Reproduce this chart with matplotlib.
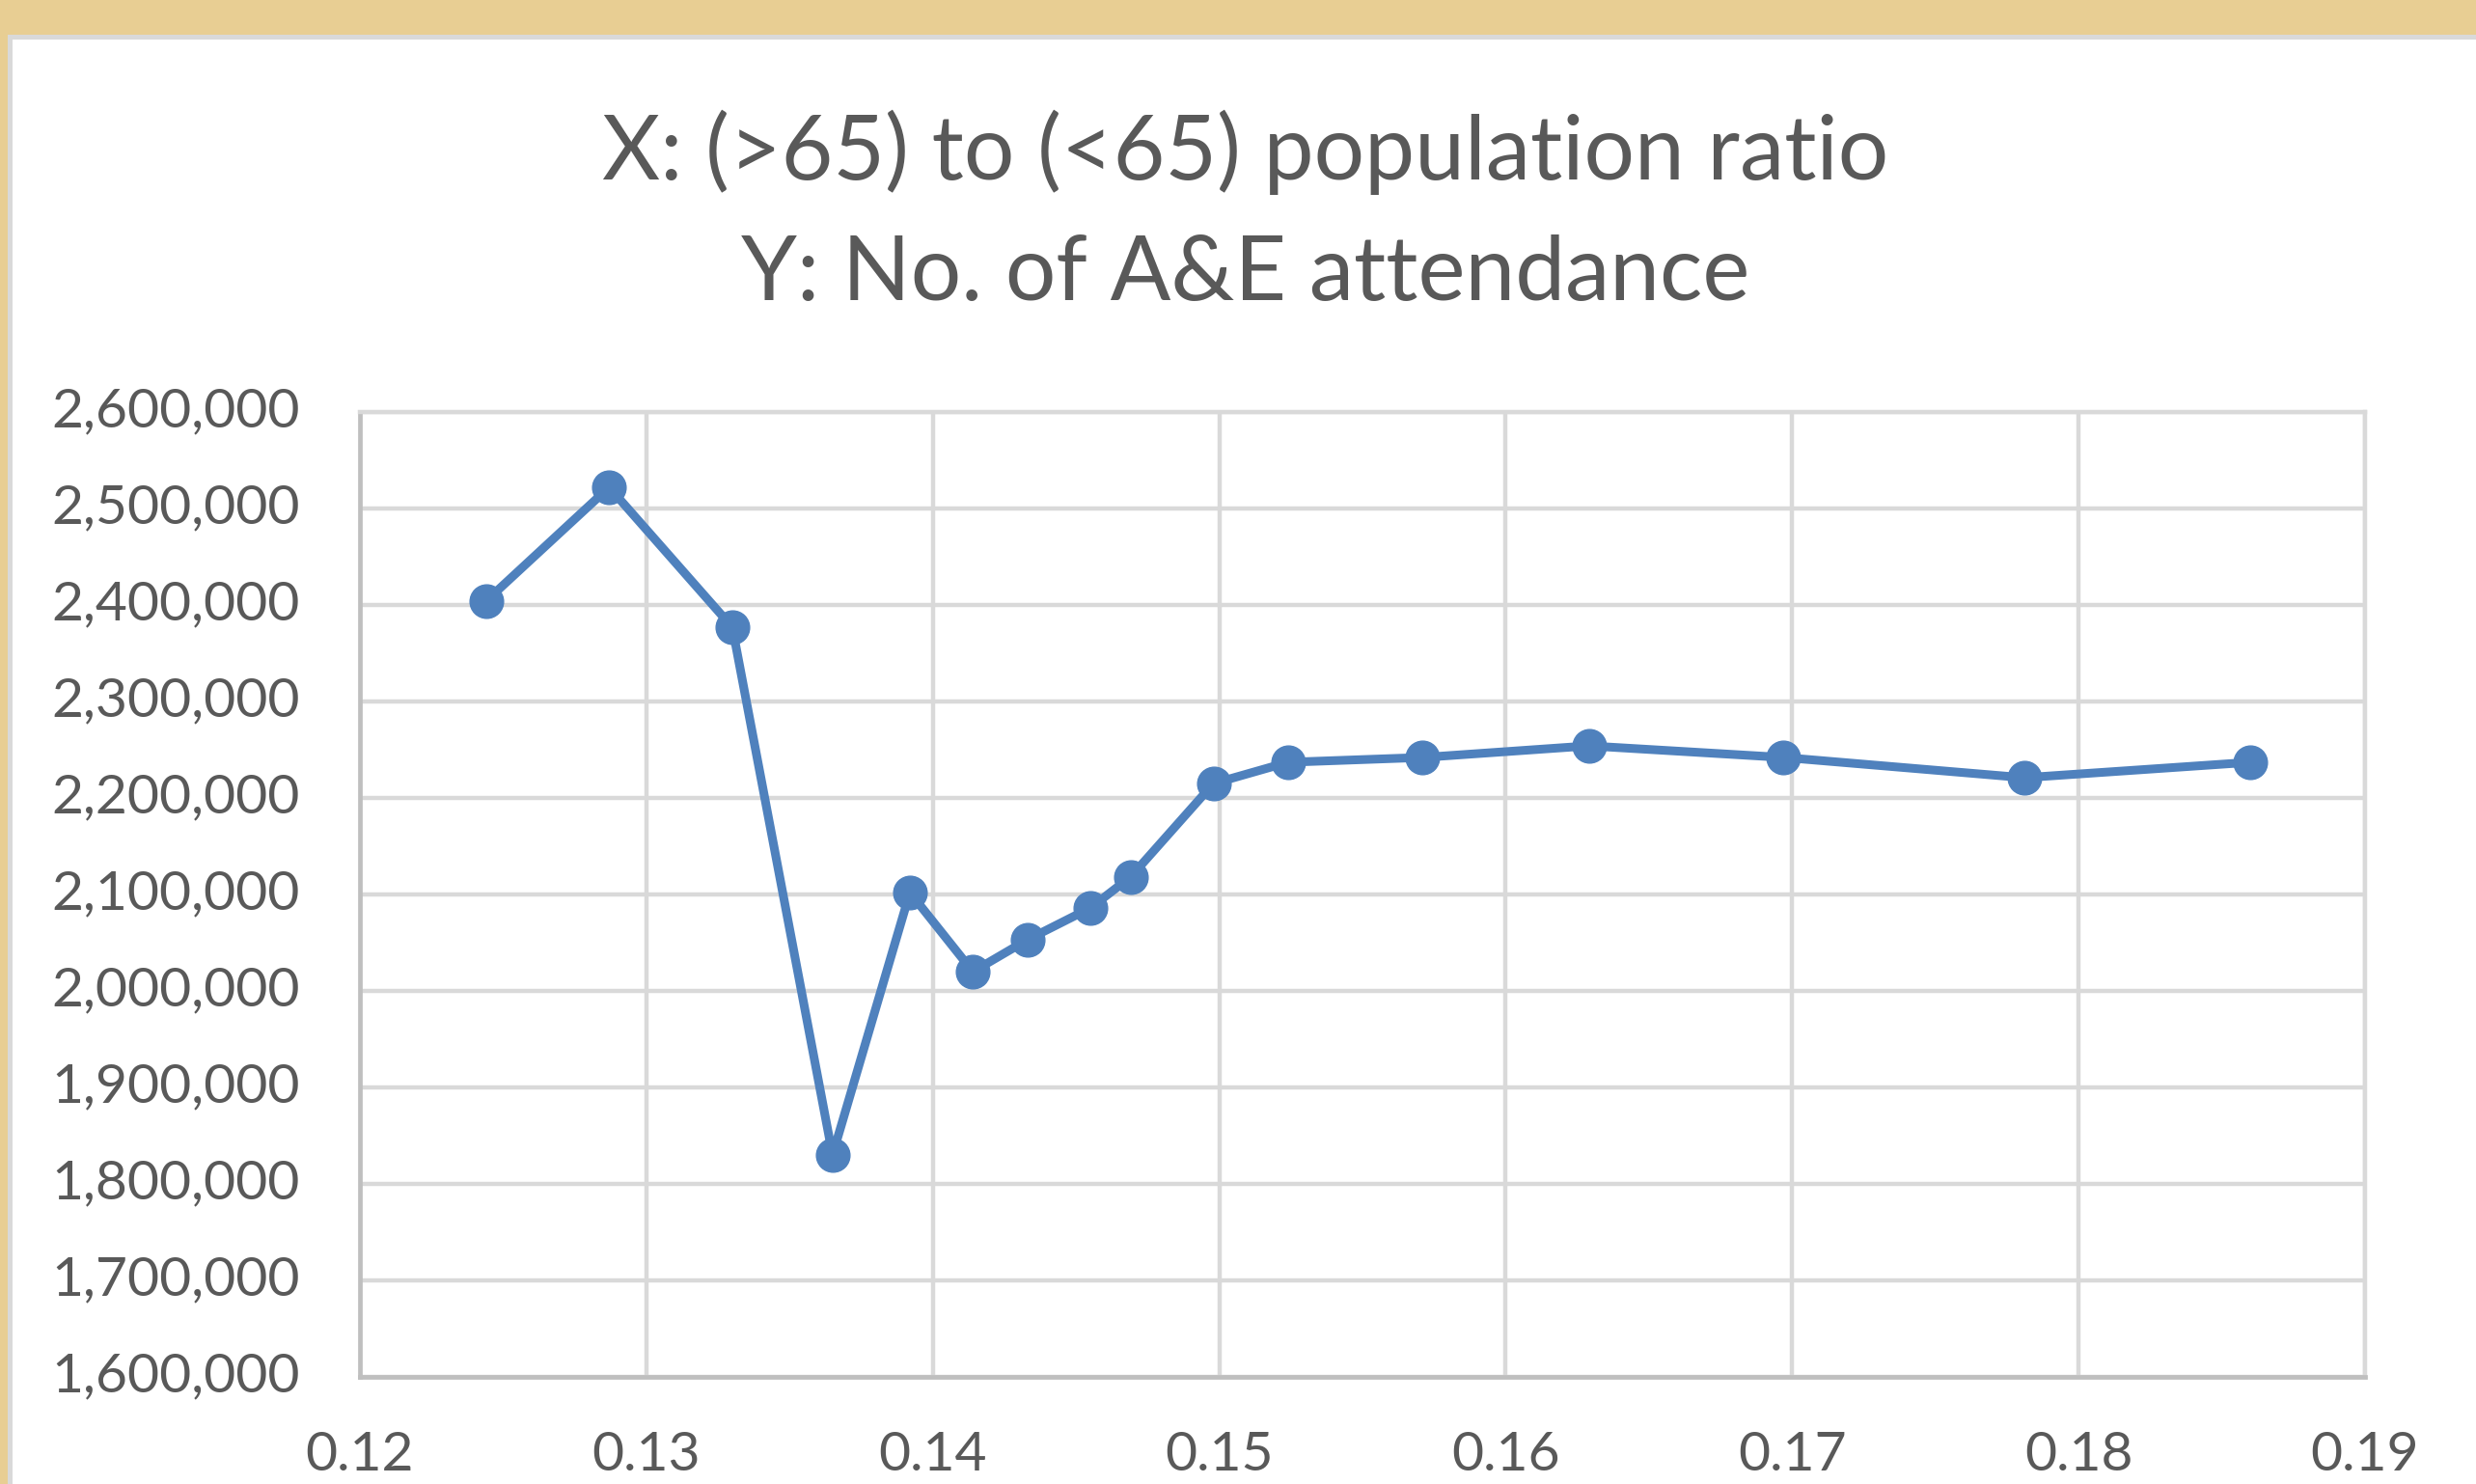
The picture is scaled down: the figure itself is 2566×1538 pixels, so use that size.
import matplotlib
matplotlib.use("Agg")
import matplotlib.pyplot as plt
from matplotlib.patches import Rectangle
from matplotlib.ticker import FuncFormatter
from matplotlib.transforms import ScaledTranslation

# ---- data ----
ratio = [0.1244, 0.1287, 0.1330, 0.1365, 0.1392, 0.1414, 0.1433, 0.1455,
         0.1469, 0.1498, 0.1524, 0.1571, 0.1629, 0.1697, 0.1781, 0.1860]
attendance = [2404000, 2522000, 2377000, 1830000, 2102000, 2020000, 2053000, 2086000,
              2118000, 2215000, 2237000, 2242000, 2254000, 2242000, 2221000, 2237000]
title_lines = ["X: (>65) to (<65) population ratio", "Y: No. of A&E attendance"]
x_ticks = [0.12, 0.13, 0.14, 0.15, 0.16, 0.17, 0.18, 0.19]
y_ticks = [1600000, 1700000, 1800000, 1900000, 2000000, 2100000,
           2200000, 2300000, 2400000, 2500000, 2600000]

W, H, DPI = 2566, 1538, 100
plt.rcParams['font.family'] = ['Lato', 'DejaVu Sans']
TXT = '#595959'
BLUE = '#4F81BD'
GRID = '#D9D9D9'
SPINE = '#BFBFBF'

fig = plt.figure(figsize=(W / DPI, H / DPI), dpi=DPI)
fig.patch.set_facecolor('#E8CE93')

# white chart area with light grey frame
fig.patches.append(Rectangle((9.5 / W, -0.1), 1.2, 1.1 - 38.5 / H,
                             transform=fig.transFigure, facecolor='white',
                             edgecolor=GRID, linewidth=3.6, zorder=-5))

ax = fig.add_axes([373 / W, 1 - 1427 / H, (2451 - 373) / W, (1427 - 427) / H])
ax.set_zorder(2)
ax.set_facecolor('white')
ax.plot(ratio, attendance, color=BLUE, linewidth=6.5, marker='o',
        markersize=25, markerfacecolor=BLUE, markeredgecolor=BLUE, zorder=3)

ax.set_xlim(x_ticks[0], x_ticks[-1])
ax.set_ylim(y_ticks[0], y_ticks[-1])
ax.set_xticks(x_ticks)
ax.set_yticks(y_ticks)
ax.xaxis.set_major_formatter(FuncFormatter(lambda v, p: f"{v:.2f}"))
ax.yaxis.set_major_formatter(FuncFormatter(lambda v, p: f"{int(round(v)):,}"))
ax.grid(True, color=GRID, linewidth=3.2)
ax.set_axisbelow(True)
ax.tick_params(length=0, labelsize=41, labelcolor=TXT)
ax.tick_params(axis='y', pad=45)
ax.tick_params(axis='x', pad=40)
shift_up = ScaledTranslation(0, 5 / DPI, fig.dpi_scale_trans)
for lab in ax.get_yticklabels():
    lab.set_transform(lab.get_transform() + shift_up)
for s in ['left', 'bottom']:
    ax.spines[s].set_color(SPINE)
    ax.spines[s].set_linewidth(3.4)
for s in ['top', 'right']:
    ax.spines[s].set_color(GRID)
    ax.spines[s].set_linewidth(3.2)

# title, two centered lines
t1 = fig.text(1291 / W, 1 - 186 / H, title_lines[0], ha='center', va='baseline',
              color=TXT, fontsize=60, zorder=3)
t2 = fig.text(1291 / W, 1 - 311 / H, title_lines[1], ha='center', va='baseline',
              color=TXT, fontsize=60, zorder=3)
fig.canvas.draw()
r = fig.canvas.get_renderer()
w1 = t1.get_window_extent(r).width
scale = 1335 / w1
t1.set_fontsize(60 * scale)
t2.set_fontsize(60 * scale)

fig.savefig('out.png', dpi=DPI, facecolor=fig.get_facecolor())
